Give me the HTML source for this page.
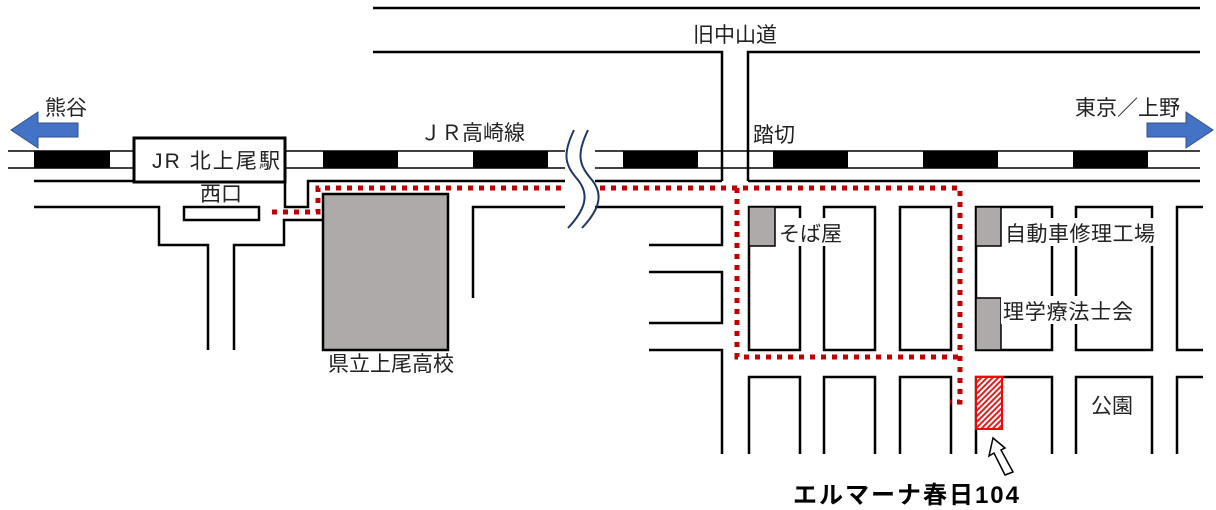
<!DOCTYPE html>
<html><head><meta charset="utf-8"><style>
body{margin:0;background:#fff}
svg{display:block}
text{font-family:"Liberation Sans","Noto Sans CJK JP",sans-serif;font-size:21px;fill:#222}
</style></head><body>
<svg width="1216" height="510" viewBox="0 0 1216 510" xmlns="http://www.w3.org/2000/svg">
<defs>
<pattern id="h" width="4" height="4" patternUnits="userSpaceOnUse" patternTransform="rotate(45)">
<rect width="4" height="4" fill="#fff"/><rect width="2" height="4" fill="#e02020"/></pattern>
</defs>
<g stroke="#000" stroke-width="2.5" fill="none">
<path d="M373,8H1200M373,52H722V181M748,181V52H1200"/>
<path d="M8,151H1200M8,168H1200" stroke-width="1.5"/>
</g>
<g fill="#000">
<rect x="34" y="151" width="76" height="17"/><rect x="323" y="151" width="75" height="17"/>
<rect x="473" y="151" width="75" height="17"/><rect x="623" y="151" width="75" height="17"/>
<rect x="773" y="151" width="75" height="17"/><rect x="923" y="151" width="75" height="17"/>
<rect x="1073" y="151" width="75" height="17"/>
</g>
<g stroke="#000" stroke-width="2.5" fill="none">
<path d="M34,181H134"/>
<path d="M285,182V207H308V181H722"/>
<path d="M748,181H1200"/>
<path d="M34,207H159V245H208V350M234,350V245H284V220H323"/>
<rect x="184" y="207" width="75" height="13"/>
<path d="M473,298V207H722V245H649M649,272H722V323H649M649,350H722V454"/>
<rect x="749" y="207" width="51" height="143"/><rect x="824" y="207" width="51" height="143"/>
<rect x="900" y="207" width="51" height="143"/><rect x="976" y="207" width="76" height="143"/>
<rect x="1076" y="207" width="76" height="143"/>
<path d="M1203,207H1177V350H1203"/>
<path d="M749,454V377H800V454M824,454V377H875V454M900,454V377H951V454M976,454V377H1052V454M1076,454V377H1152V454M1203,377H1177V454"/>
</g>
<rect x="134" y="138" width="151" height="44" fill="#fff" stroke="#000" stroke-width="3"/>
<rect x="323" y="194" width="125" height="156" fill="#aeaaa9" stroke="#000" stroke-width="2.5"/>
<rect x="749" y="207" width="26" height="39" fill="#aeaaa9" stroke="#000" stroke-width="1.5"/>
<rect x="976" y="207" width="25" height="39" fill="#aeaaa9" stroke="#000" stroke-width="1.5"/>
<rect x="976" y="298" width="25" height="52" fill="#aeaaa9" stroke="#000" stroke-width="1.5"/>
<rect x="976" y="377" width="26" height="52" fill="url(#h)" stroke="#f00" stroke-width="2"/>
<path d="M272,212H318V188H960V402H950M737,188V357H960" stroke="#c00000" stroke-width="5" stroke-dasharray="5,6" fill="none"/>
<rect x="565" y="130" width="30" height="98" fill="#fff"/>
<g stroke="#1f3864" stroke-width="2" fill="none">
<path d="M574,130C562,155 565,165 578,180C590,195 585,210 568,228"/>
<path d="M588,130C576,155 579,165 592,180C604,195 599,210 582,228"/>
</g>
<polygon points="11,130 38,112 38,123 78,123 78,137 38,137 38,148" fill="#4472c4" stroke="#2f528f" stroke-width="1"/>
<polygon points="1213,130 1186,112 1186,123 1147,123 1147,137 1186,137 1186,148" fill="#4472c4" stroke="#2f528f" stroke-width="1"/>
<polygon points="993,438 1005,448 1001,450 1013,472 1005,475 994,453 989,456" fill="#fff" stroke="#000" stroke-width="1.5"/>
<g>
<rect x="777" y="218" width="68" height="28" fill="#fff"/>
<rect x="1003" y="218" width="156" height="28" fill="#fff"/>
<rect x="1001" y="296" width="136" height="28" fill="#fff"/>
</g>
<text x="45" y="115">熊谷</text>
<text x="1075" y="115" textLength="105">東京／上野</text>
<text x="693" y="42">旧中山道</text>
<text x="420" y="140" textLength="105">ＪＲ高崎線</text>
<text x="753" y="142">踏切</text>
<text x="152" y="168" textLength="128">JR 北上尾駅</text>
<text x="200" y="201">西口</text>
<text x="328" y="371">県立上尾高校</text>
<text x="779" y="241">そば屋</text>
<text x="1005" y="241" textLength="150">自動車修理工場</text>
<text x="1003" y="319" textLength="130">理学療法士会</text>
<text x="1091" y="413">公園</text>
<text x="793" y="503" textLength="226" style="font-size:24px;font-weight:bold;fill:#000">エルマーナ春日104</text>
</svg>
</body></html>
